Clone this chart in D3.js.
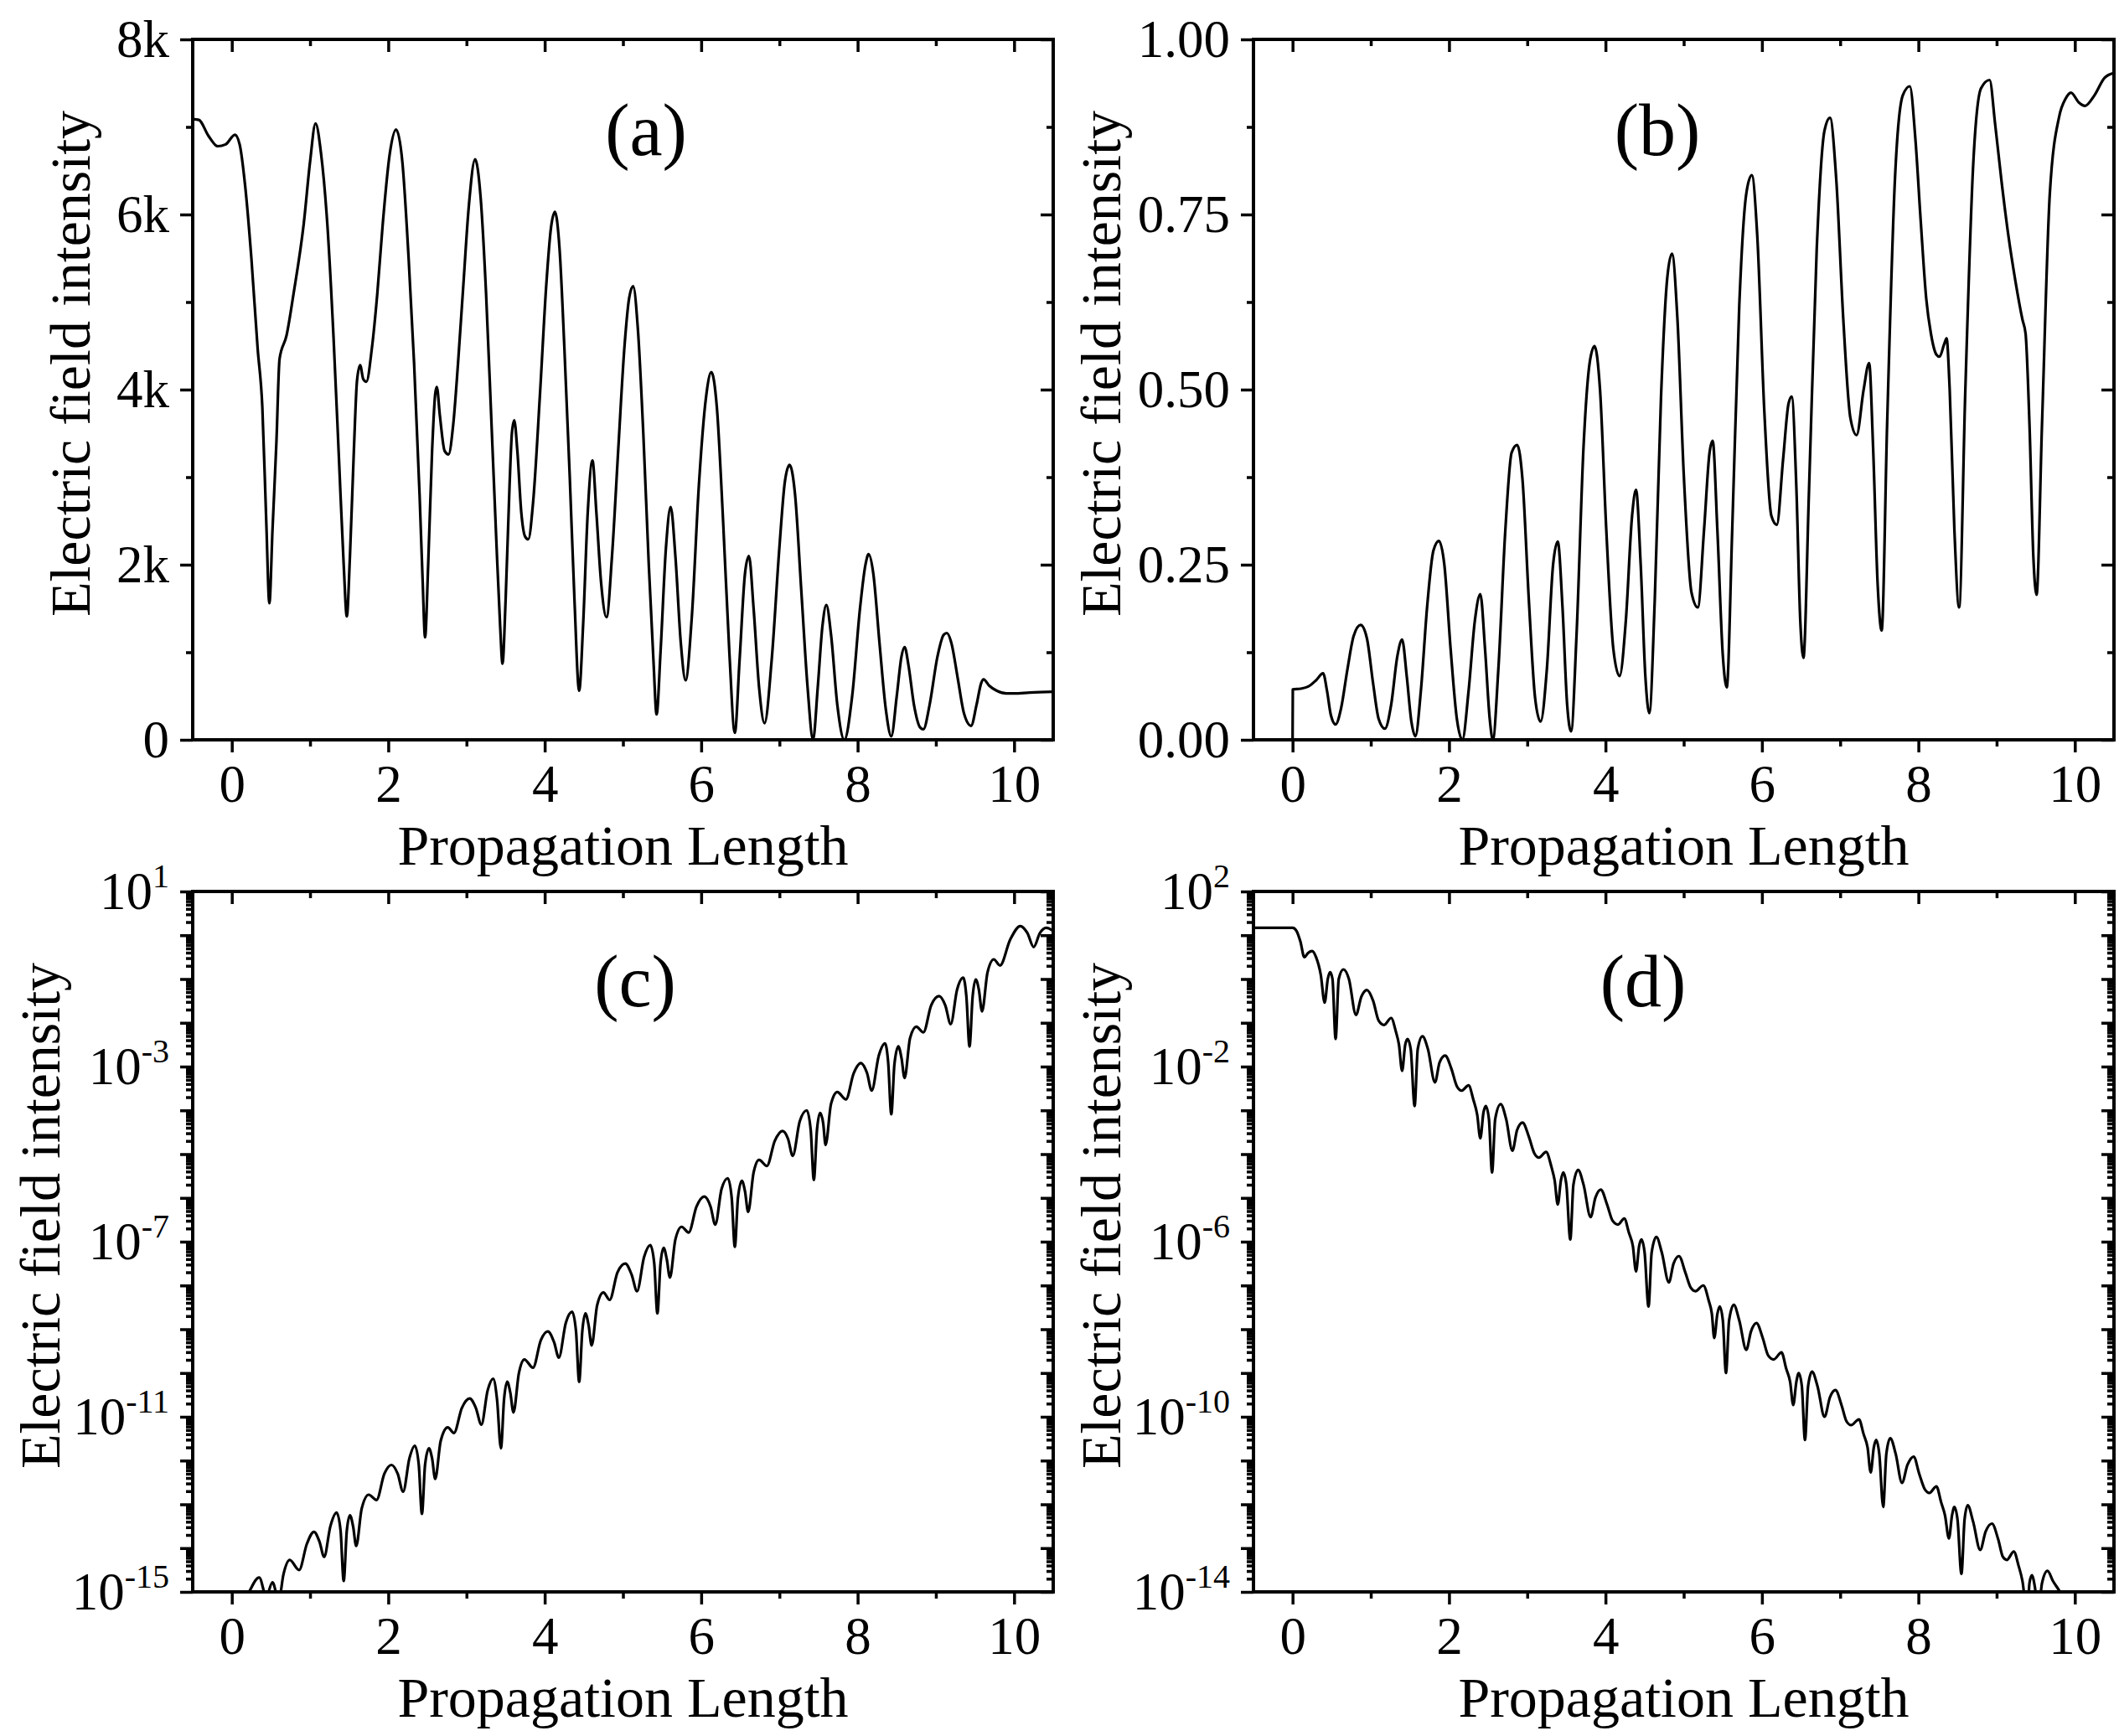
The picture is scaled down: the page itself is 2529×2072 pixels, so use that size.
<!DOCTYPE html>
<html>
<head>
<meta charset="utf-8">
<script src="https://cdn.jsdelivr.net/npm/d3@7"></script>
<style>
  body { margin: 0; background: #fff; }
  svg { display: block; }
  text { font-family: "Liberation Serif", "Times New Roman", serif; fill: #000; }
</style>
</head>
<body>
<script>
// ---- data ----
// (a) intensity in thousands
var aX = [-0.5,-0.42,-0.3,-0.18,-0.08,0.04,0.1,0.17,0.25,0.33,0.39,0.44,0.48,0.52,0.57,0.61,0.7,0.79,0.92,1.0,1.07,1.14,1.22,1.3,1.37,1.43,1.47,1.51,1.56,1.6,1.64,1.68,1.72,1.79,1.86,1.93,2.02,2.1,2.18,2.26,2.33,2.4,2.44,2.47,2.51,2.56,2.6,2.62,2.66,2.72,2.77,2.83,2.89,2.96,3.03,3.11,3.18,3.25,3.32,3.38,3.43,3.46,3.5,3.55,3.58,3.61,3.65,3.7,3.75,3.79,3.85,3.94,4.02,4.08,4.13,4.19,4.25,4.32,4.38,4.44,4.49,4.55,4.61,4.66,4.72,4.79,4.86,4.94,5.02,5.08,5.13,5.19,5.26,5.33,5.39,5.43,5.48,5.55,5.61,5.67,5.74,5.8,5.88,5.97,6.06,6.13,6.2,6.28,6.36,6.43,6.49,6.56,6.61,6.67,6.74,6.81,6.9,7.0,7.07,7.13,7.2,7.28,7.36,7.43,7.49,7.55,7.6,7.66,7.74,7.83,7.93,8.03,8.1,8.14,8.2,8.28,8.36,8.43,8.5,8.56,8.6,8.65,8.72,8.8,8.84,8.92,9.02,9.1,9.14,9.2,9.28,9.36,9.45,9.52,9.58,9.61,9.68,9.78,9.9,10.0,10.2,10.5];
var aY = [7.09,7.08,6.9,6.78,6.8,6.91,6.8,6.33,5.5,4.47,3.8,2.5,1.56,2.4,3.4,4.35,4.62,5.1,5.9,6.6,7.04,6.7,5.9,4.6,3.2,2.0,1.41,2.1,3.3,4.1,4.28,4.12,4.09,4.47,5.1,5.9,6.7,6.97,6.6,5.5,4.3,2.8,1.8,1.17,2.0,3.3,3.95,4.03,3.7,3.3,3.26,3.6,4.28,5.2,6.1,6.63,6.2,5.1,3.6,2.3,1.3,0.87,1.6,2.9,3.5,3.65,3.3,2.6,2.32,2.29,2.7,3.96,5.2,5.85,6.03,5.6,4.5,3.0,1.6,0.56,1.3,2.6,3.19,2.6,1.8,1.4,2.1,3.32,4.5,5.05,5.18,4.7,3.5,2.0,0.9,0.29,1.0,2.2,2.66,2.1,1.1,0.68,1.4,2.9,3.9,4.2,3.8,2.5,1.0,0.08,0.9,1.9,2.1,1.5,0.6,0.19,0.9,2.2,2.95,3.14,2.8,1.7,0.6,0.0,0.6,1.3,1.54,1.2,0.4,0.0,0.5,1.5,2.0,2.12,1.9,1.1,0.35,0.04,0.5,0.95,1.06,0.85,0.4,0.14,0.12,0.4,0.95,1.2,1.22,1.1,0.7,0.3,0.16,0.4,0.65,0.69,0.62,0.56,0.53,0.53,0.54,0.55];

// (b) intensity
var bX = [0,0.003,0.1,0.2,0.3,0.39,0.44,0.49,0.55,0.62,0.7,0.78,0.87,0.95,1.03,1.1,1.18,1.26,1.34,1.4,1.46,1.52,1.57,1.64,1.72,1.8,1.87,1.94,2.02,2.1,2.17,2.25,2.33,2.4,2.46,2.52,2.56,2.63,2.72,2.8,2.87,2.94,3.02,3.1,3.17,3.25,3.33,3.39,3.45,3.51,3.56,3.63,3.72,3.8,3.86,3.93,4.01,4.1,4.18,4.26,4.34,4.39,4.45,4.51,4.56,4.63,4.71,4.79,4.85,4.92,5.0,5.1,5.18,5.26,5.33,5.37,5.43,5.5,5.55,5.62,5.71,5.8,5.87,5.94,6.03,6.12,6.19,6.27,6.34,6.38,6.44,6.49,6.53,6.6,6.7,6.8,6.87,6.95,7.04,7.13,7.21,7.3,7.37,7.42,7.48,7.53,7.6,7.7,7.8,7.89,7.96,8.03,8.1,8.16,8.23,8.27,8.33,8.36,8.4,8.46,8.52,8.6,8.7,8.8,8.91,8.98,9.06,9.15,9.24,9.33,9.37,9.42,9.47,9.51,9.58,9.68,9.8,9.88,9.95,10.05,10.13,10.25,10.38,10.5];
var bY = [0,0.072,0.073,0.076,0.085,0.095,0.07,0.035,0.022,0.045,0.1,0.148,0.164,0.145,0.08,0.03,0.016,0.05,0.12,0.143,0.09,0.025,0.005,0.07,0.19,0.27,0.284,0.25,0.13,0.03,0.0,0.07,0.17,0.208,0.13,0.03,0.0,0.1,0.3,0.41,0.421,0.37,0.2,0.06,0.026,0.1,0.25,0.283,0.19,0.05,0.012,0.15,0.42,0.54,0.562,0.5,0.3,0.13,0.091,0.17,0.32,0.357,0.25,0.09,0.038,0.2,0.49,0.66,0.694,0.6,0.38,0.21,0.189,0.3,0.41,0.427,0.3,0.12,0.075,0.3,0.62,0.78,0.806,0.72,0.47,0.32,0.307,0.4,0.48,0.49,0.36,0.17,0.117,0.35,0.7,0.87,0.888,0.8,0.6,0.46,0.435,0.5,0.538,0.42,0.22,0.156,0.45,0.8,0.92,0.933,0.86,0.74,0.63,0.58,0.55,0.547,0.565,0.573,0.5,0.3,0.189,0.5,0.82,0.93,0.942,0.88,0.8,0.72,0.655,0.6,0.58,0.45,0.26,0.207,0.45,0.78,0.89,0.915,0.924,0.91,0.905,0.92,0.945,0.952];

// (c) log10 of intensity
var cX = [0.0,0.22,0.35,0.44,0.52,0.6,0.66,0.74,0.86,0.96,1.05,1.12,1.18,1.26,1.34,1.39,1.43,1.47,1.51,1.55,1.59,1.66,1.75,1.85,1.95,2.04,2.12,2.19,2.27,2.34,2.39,2.43,2.47,2.52,2.56,2.6,2.67,2.76,2.84,2.94,3.04,3.12,3.19,3.27,3.34,3.39,3.44,3.48,3.52,3.56,3.6,3.67,3.74,3.85,3.95,4.04,4.12,4.18,4.27,4.35,4.4,4.44,4.48,4.52,4.56,4.6,4.67,4.75,4.83,4.93,5.03,5.11,5.18,5.27,5.35,5.4,5.44,5.48,5.52,5.56,5.6,5.67,5.75,5.84,5.94,6.04,6.12,6.18,6.26,6.34,6.39,6.43,6.47,6.52,6.56,6.6,6.67,6.74,6.84,6.94,7.04,7.11,7.17,7.26,7.35,7.4,7.44,7.48,7.52,7.56,7.59,7.66,7.74,7.85,7.95,8.04,8.12,8.18,8.27,8.35,8.39,8.43,8.47,8.52,8.56,8.6,8.67,8.75,8.84,8.94,9.04,9.12,9.19,9.27,9.35,9.39,9.43,9.47,9.51,9.55,9.59,9.66,9.74,9.82,9.95,10.08,10.17,10.25,10.33,10.41,10.5];
var cLog = [-15.9,-15.0,-14.67,-15.1,-14.78,-15.2,-14.6,-14.27,-14.5,-13.9,-13.63,-13.85,-14.2,-13.5,-13.19,-13.6,-14.75,-13.6,-13.25,-13.5,-13.95,-13.1,-12.78,-12.9,-12.3,-12.1,-12.3,-12.71,-11.95,-11.66,-12.1,-13.22,-12.1,-11.72,-11.95,-12.42,-11.55,-11.24,-11.37,-10.8,-10.58,-10.8,-11.18,-10.4,-10.13,-10.6,-11.72,-10.6,-10.2,-10.45,-10.9,-10.0,-9.69,-9.88,-9.25,-9.05,-9.3,-9.65,-8.85,-8.6,-9.05,-10.2,-9.05,-8.64,-8.9,-9.37,-8.45,-8.16,-8.33,-7.7,-7.5,-7.75,-8.13,-7.35,-7.08,-7.5,-8.64,-7.5,-7.14,-7.4,-7.82,-6.95,-6.66,-6.79,-6.2,-5.97,-6.2,-6.61,-5.8,-5.55,-6.0,-7.12,-6.0,-5.61,-5.85,-6.32,-5.42,-5.13,-5.27,-4.7,-4.47,-4.65,-5.04,-4.25,-4.0,-4.45,-5.59,-4.45,-4.06,-4.3,-4.79,-3.85,-3.58,-3.75,-3.15,-2.92,-3.15,-3.55,-2.75,-2.47,-2.9,-4.09,-2.95,-2.54,-2.8,-3.26,-2.35,-2.09,-2.22,-1.6,-1.39,-1.6,-2.03,-1.25,-0.97,-1.4,-2.54,-1.4,-1.01,-1.25,-1.74,-0.85,-0.55,-0.69,-0.1,0.21,0.05,-0.27,0.05,0.17,0.1];

// (d) log10 of intensity
var dX = [-0.5,0.0,0.05,0.1,0.15,0.2,0.25,0.3,0.36,0.41,0.45,0.48,0.51,0.55,0.59,0.65,0.72,0.81,0.88,0.95,1.03,1.1,1.17,1.26,1.32,1.36,1.4,1.44,1.47,1.51,1.56,1.6,1.66,1.73,1.82,1.88,1.95,2.03,2.1,2.16,2.25,2.31,2.36,2.4,2.44,2.47,2.51,2.55,2.59,2.66,2.73,2.81,2.87,2.94,3.02,3.09,3.15,3.24,3.31,3.35,3.39,3.43,3.46,3.5,3.55,3.59,3.65,3.72,3.81,3.87,3.94,4.02,4.09,4.16,4.24,4.3,4.35,4.39,4.43,4.46,4.5,4.55,4.59,4.65,4.72,4.81,4.87,4.94,5.02,5.09,5.15,5.25,5.32,5.36,5.39,5.43,5.46,5.5,5.54,5.58,5.64,5.71,5.8,5.86,5.93,6.01,6.08,6.15,6.25,6.31,6.36,6.4,6.44,6.47,6.51,6.55,6.59,6.64,6.71,6.8,6.87,6.94,7.02,7.08,7.14,7.24,7.3,7.35,7.39,7.43,7.46,7.5,7.55,7.59,7.64,7.71,7.79,7.86,7.94,8.01,8.08,8.14,8.23,8.29,8.34,8.39,8.43,8.46,8.5,8.55,8.59,8.63,8.7,8.79,8.86,8.94,9.02,9.08,9.13,9.22,9.28,9.33,9.39,9.42,9.45,9.49,9.53,9.58,9.65,9.72,9.81,9.9,10.0,10.5];
var dLog = [1.17,1.17,1.1,0.855,0.5,0.6,0.64,0.5,0.1,-0.54,0.0,0.155,0.0,-1.37,0.0,0.22,0.0,-0.82,-0.4,-0.25,-0.5,-0.95,-1.05,-0.89,-1.2,-1.5,-2.1,-1.5,-1.37,-1.6,-2.9,-1.6,-1.31,-1.6,-2.36,-1.9,-1.75,-2.05,-2.45,-2.55,-2.43,-2.75,-3.1,-3.64,-3.05,-2.9,-3.2,-4.42,-3.2,-2.86,-3.2,-3.92,-3.45,-3.28,-3.6,-3.98,-4.08,-3.95,-4.3,-4.6,-5.15,-4.6,-4.42,-4.7,-5.95,-4.7,-4.36,-4.7,-5.44,-5.0,-4.81,-5.15,-5.52,-5.61,-5.47,-5.8,-6.1,-6.68,-6.1,-5.95,-6.25,-7.48,-6.25,-5.89,-6.25,-6.93,-6.5,-6.33,-6.7,-7.05,-7.13,-7.0,-7.35,-7.65,-8.2,-7.65,-7.48,-7.8,-9.0,-7.8,-7.44,-7.8,-8.47,-8.05,-7.86,-8.2,-8.6,-8.69,-8.53,-8.9,-9.2,-9.73,-9.2,-9.0,-9.3,-10.53,-9.3,-8.97,-9.3,-10.0,-9.55,-9.39,-9.75,-10.1,-10.19,-10.06,-10.4,-10.7,-11.27,-10.7,-10.53,-10.85,-12.06,-10.85,-10.49,-10.85,-11.51,-11.1,-10.91,-11.3,-11.65,-11.74,-11.59,-11.95,-12.25,-12.78,-12.25,-12.06,-12.35,-13.59,-12.35,-12.02,-12.4,-13.04,-12.62,-12.44,-12.8,-13.2,-13.27,-13.08,-13.4,-13.75,-14.5,-13.8,-13.62,-13.9,-14.5,-13.8,-13.52,-13.75,-14.0,-14.3,-14.6,-15.5];

// ticks / labels
var xMajor = [0, 2, 4, 6, 8, 10];
var xMinor = [1, 3, 5, 7, 9];
var aMajor = [0, 2000, 4000, 6000, 8000];
var aMinor = [1000, 3000, 5000, 7000];
var aLabels = ["0", "2k", "4k", "6k", "8k"];
var bMajor = [0, 0.25, 0.5, 0.75, 1.0];
var bMinor = [0.125, 0.375, 0.625, 0.875];
var bLabels = ["0.00", "0.25", "0.50", "0.75", "1.00"];
var cLabelExp = [1, -3, -7, -11, -15];
var dLabelExp = [2, -2, -6, -10, -14];
var panelTags = ["(a)", "(b)", "(c)", "(d)"];
var xTitle = "Propagation Length";
var yTitle = "Electric field intensity";

// ---- layout ----
var W = 1027, H = 836;
var FONT_TICK = 63, FONT_TITLE = 68, FONT_TAG = 88;
var MAJ = 15, MIN = 8;
var X_TITLE_Y = H + 149;

var svg = d3.select("body").append("svg")
    .attr("width", 2529)
    .attr("height", 2072);
svg.append("rect").attr("width", 2529).attr("height", 2072).attr("fill", "#fff");

function decadeTicks(lo, hi) {
  var out = [];
  for (var e = lo; e <= hi; e++) out.push(Math.pow(10, e));
  return out;
}
function minorLogTicks(lo, hi) {
  var out = [];
  for (var e = lo; e < hi; e++)
    for (var m = 2; m <= 9; m++) out.push(m * Math.pow(10, e));
  return out;
}

function styleAxis(sel) {
  sel.select(".domain").remove();
  sel.selectAll(".tick line").attr("stroke", "#000").attr("stroke-width", 3.5);
  sel.selectAll(".tick text")
    .attr("font-size", FONT_TICK)
    .attr("font-family", "Liberation Serif, Times New Roman, serif");
}

function drawPanel(p, idx) {
  var g = svg.append("g").attr("transform", "translate(" + p.left + "," + p.top + ")");
  var x = d3.scaleLinear().domain([-0.5, 10.5]).range([0, W]);
  var y;
  if (p.log) y = d3.scaleLog().domain([Math.pow(10, p.lo), Math.pow(10, p.hi)]).range([H, 0]);
  else y = d3.scaleLinear().domain(p.dom).range([H, 0]);

  var clipId = "clip" + idx;
  g.append("clipPath").attr("id", clipId)
    .append("rect").attr("width", W).attr("height", H);

  // data line
  var pts = p.xs.map(function (v, i) { return [v, p.log ? Math.pow(10, p.ys[i]) : p.ys[i]]; });
  var line = d3.line()
    .x(function (d) { return x(d[0]); })
    .y(function (d) { return y(d[1]); })
    .curve(d3.curveMonotoneX);
  g.append("path")
    .attr("clip-path", "url(#" + clipId + ")")
    .attr("d", line(pts))
    .attr("fill", "none")
    .attr("stroke", "#000")
    .attr("stroke-width", 3.2)
    .attr("stroke-linejoin", "round");

  // x axes: bottom outward, top inward
  g.append("g").attr("transform", "translate(0," + H + ")")
    .call(d3.axisBottom(x).tickValues(xMajor).tickSize(MAJ).tickSizeOuter(0).tickPadding(14)
      .tickFormat(d3.format("d")))
    .call(styleAxis);
  g.append("g").attr("transform", "translate(0," + H + ")")
    .call(d3.axisBottom(x).tickValues(xMinor).tickSize(MIN).tickSizeOuter(0).tickFormat(""))
    .call(styleAxis);
  g.append("g")
    .call(d3.axisTop(x).tickValues(xMajor).tickSize(-MAJ).tickSizeOuter(0).tickFormat(""))
    .call(styleAxis);
  g.append("g")
    .call(d3.axisTop(x).tickValues(xMinor).tickSize(-MIN).tickSizeOuter(0).tickFormat(""))
    .call(styleAxis);

  // y axes
  var major, minor;
  if (p.log) { major = decadeTicks(p.lo, p.hi); minor = minorLogTicks(p.lo, p.hi); }
  else { major = p.major; minor = p.minor; }

  var left = g.append("g")
    .call(d3.axisLeft(y).tickValues(major).tickSize(MAJ).tickSizeOuter(0).tickPadding(13)
      .tickFormat(function (d, i) { return p.log ? "" : p.labels[i]; }))
    .call(styleAxis);
  if (p.log) {
    left.selectAll(".tick text").each(function (d) {
      var e = Math.round(Math.log10(d));
      if (p.labelExp.indexOf(e) < 0) return;
      var t = d3.select(this);
      t.append("tspan").text("10");
      t.append("tspan").attr("font-size", 40).attr("dy", -26).text(String(e));
    });
  }
  g.append("g")
    .call(d3.axisLeft(y).tickValues(minor).tickSize(MIN).tickSizeOuter(0).tickFormat(""))
    .call(styleAxis);
  g.append("g").attr("transform", "translate(" + W + ",0)")
    .call(d3.axisRight(y).tickValues(major).tickSize(-MAJ).tickSizeOuter(0).tickFormat(""))
    .call(styleAxis);
  g.append("g").attr("transform", "translate(" + W + ",0)")
    .call(d3.axisRight(y).tickValues(minor).tickSize(-MIN).tickSizeOuter(0).tickFormat(""))
    .call(styleAxis);

  // frame
  g.append("rect").attr("width", W).attr("height", H)
    .attr("fill", "none").attr("stroke", "#000").attr("stroke-width", 4);

  // titles
  g.append("text")
    .attr("x", W / 2).attr("y", X_TITLE_Y)
    .attr("text-anchor", "middle")
    .attr("font-size", FONT_TITLE)
    .text(xTitle);
  g.append("text")
    .attr("transform", "translate(" + p.yTitleX + "," + (H / 2 - 31) + ") rotate(-90)")
    .attr("text-anchor", "middle")
    .attr("font-size", FONT_TITLE)
    .text(yTitle);

  g.append("text")
    .attr("x", p.tagX).attr("y", p.tagY)
    .attr("text-anchor", "middle")
    .attr("font-size", FONT_TAG)
    .text(panelTags[idx]);
}

var panels = [
  { left: 230, top: 47, xs: aX, ys: aY.map(function (v) { return v * 1000; }), dom: [0, 8000],
    major: aMajor, minor: aMinor, labels: aLabels, yTitleX: -123, tagX: 541, tagY: 138 },
  { left: 1496, top: 47, xs: bX, ys: bY, dom: [0, 1],
    major: bMajor, minor: bMinor, labels: bLabels, yTitleX: -159, tagX: 482, tagY: 138 },
  { left: 230, top: 1064, xs: cX, ys: cLog, log: true, lo: -15, hi: 1, labelExp: cLabelExp,
    yTitleX: -159, tagX: 528, tagY: 137 },
  { left: 1496, top: 1064, xs: dX, ys: dLog, log: true, lo: -14, hi: 2, labelExp: dLabelExp,
    yTitleX: -159, tagX: 465, tagY: 137 }
];

panels.forEach(drawPanel);
</script>
</body>
</html>
